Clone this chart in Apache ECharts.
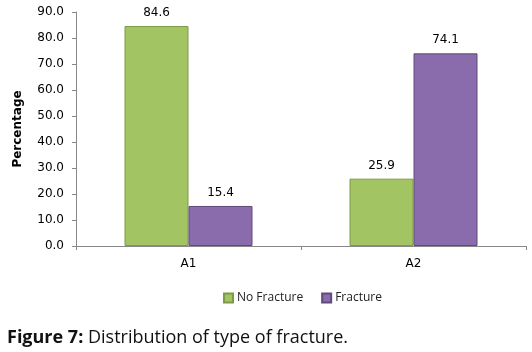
<!DOCTYPE html>
<html>
<head>
<meta charset="utf-8">
<script src="https://cdn.jsdelivr.net/npm/echarts@6/dist/echarts.min.js"></script>
<style>
  html, body { margin: 0; padding: 0; background: #fff; }
  #chart { width: 532px; height: 352px; }
</style>
</head>
<body>
<div id="chart"></div>
<script>
// categories and values
const categories = ["A1", "A2"];
const noFracture = [84.6, 25.9];
const fracture = [15.4, 74.1];
const seriesNames = ["No Fracture", "Fracture"];

const chart = echarts.init(document.getElementById("chart"));

const labelStyle = {
  show: true,
  position: "top",
  distance: 7,
  color: "#000",
  fontFamily: "DejaVu Sans",
  fontSize: 12,
  formatter: (p) => p.value.toFixed(1),
};

chart.setOption({
  animation: false,
  title: {
    text: "{b|Figure 7:} Distribution of type of fracture.",
    left: 2,
    top: 324,
    textStyle: {
      fontFamily: "Open Sans",
      fontSize: 18,
      fontWeight: "normal",
      color: "#111",
      rich: {
        b: { fontFamily: "Open Sans", fontSize: 18, fontWeight: "bold", color: "#111" },
      },
    },
  },
  grid: { left: 76, top: 12, right: 6, bottom: 106 },
  legend: {
    data: seriesNames,
    top: 287,
    left: 218,
    itemWidth: 9,
    itemHeight: 9,
    itemGap: 18,
    icon: "rect",
    textStyle: { fontFamily: "Open Sans", fontSize: 12, color: "#222", padding: [0, 0, 0, -1] },
  },
  xAxis: {
    type: "category",
    data: categories,
    axisLine: { lineStyle: { color: "#888", width: 1 } },
    axisTick: { show: true, length: 4, lineStyle: { color: "#888" } },
    axisLabel: { fontFamily: "DejaVu Sans", fontSize: 12, color: "#000", margin: 12 },
  },
  yAxis: {
    type: "value",
    min: 0,
    max: 90,
    interval: 10,
    name: "Percentage",
    nameLocation: "middle",
    nameGap: 52,
    nameTextStyle: { fontFamily: "DejaVu Sans", fontSize: 12, fontWeight: "bold", color: "#000" },
    axisLine: { show: true, lineStyle: { color: "#888", width: 1 } },
    axisTick: { show: true, length: 4, lineStyle: { color: "#888" } },
    splitLine: { show: false },
    axisLabel: {
      fontFamily: "DejaVu Sans",
      fontSize: 12,
      color: "#000",
      margin: 12,
      formatter: (v) => v.toFixed(1),
    },
  },
  series: [
    {
      name: seriesNames[0],
      type: "bar",
      data: noFracture,
      barWidth: 64,
      barGap: "0%",
      itemStyle: { color: "#A3C463", borderColor: "#7E9A48", borderWidth: 1 },
      label: labelStyle,
    },
    {
      name: seriesNames[1],
      type: "bar",
      data: fracture,
      barWidth: 64,
      itemStyle: { color: "#8A6CAC", borderColor: "#5F4A7E", borderWidth: 1 },
      label: labelStyle,
    },
  ],
});
window.onresize = chart.resize;
</script>
</body>
</html>
